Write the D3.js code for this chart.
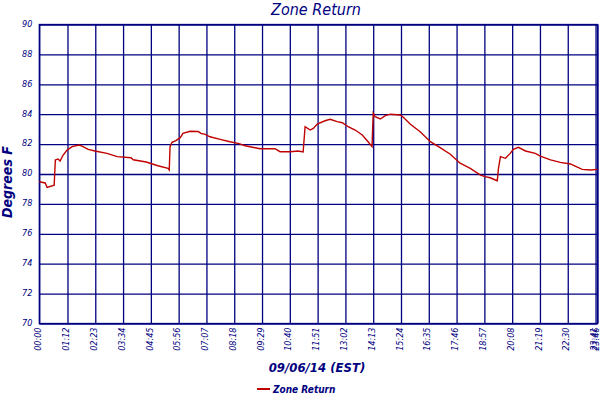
<!DOCTYPE html>
<html lang="en">
<head>
    <meta charset="UTF-8">
    <title>Zone Return</title>
    <script src="https://d3js.org/d3.v7.min.js"></script>
    <style>
        body { margin: 0; background: #fff; }
        text { fill: #000080; font-family: "DejaVu Sans Condensed", "DejaVu Sans", sans-serif; }
        .grid line, .grid path { stroke: #000080; stroke-width: 1.3; }
        .tick text { font-size: 9px; font-style: italic; }
    </style>
</head>
<body>
<script>
    // minutes after midnight, 09/06/14
    var times = [0, 15, 20, 38, 41, 48, 53, 61, 71, 84, 102, 109, 125, 142, 173, 199, 234, 240, 273, 303,
        329, 332, 334, 339, 349, 360, 367, 385, 406, 413, 424, 436, 462, 487, 508, 526, 564, 602, 615, 641,
        661, 674, 679, 692, 700, 710, 730, 743, 761, 774, 789, 807, 825, 840, 850, 853, 858, 871, 884, 897,
        922, 930, 948, 973, 999, 1024, 1050, 1075, 1101, 1127, 1139, 1152, 1165, 1170, 1173, 1178, 1191, 1203,
        1211, 1224, 1242, 1267, 1280, 1306, 1331, 1357, 1369, 1387, 1408, 1426];
    var temps = [79.48, 79.40, 79.10, 79.25, 80.94, 81.00, 80.87, 81.27, 81.60, 81.83, 81.94, 81.87, 81.65, 81.54, 81.38, 81.16, 81.09, 80.95, 80.80, 80.55,
        80.38, 80.27, 81.83, 82.12, 82.23, 82.43, 82.72, 82.86, 82.84, 82.72, 82.65, 82.49, 82.32, 82.16, 82.05, 81.89, 81.69, 81.69, 81.49, 81.49,
        81.54, 81.47, 83.16, 82.94, 83.05, 83.34, 83.56, 83.66, 83.50, 83.43, 83.16, 82.94, 82.61, 82.16, 81.83, 84.06, 83.83, 83.68, 83.90, 84.00,
        83.95, 83.80, 83.33, 82.83, 82.16, 81.76, 81.32, 80.72, 80.38, 79.93, 79.82, 79.75, 79.60, 79.55, 80.38, 81.16, 81.05, 81.38,
        81.65, 81.78, 81.54, 81.38, 81.20, 80.94, 80.78, 80.67, 80.53, 80.31, 80.27, 80.31];
    var timeLabels = ["00:00", "01:12", "02:23", "03:34", "04:45", "05:56", "07:07", "08:18", "09:29", "10:40", "11:51",
        "13:02", "14:13", "15:24", "16:35", "17:46", "18:57", "20:08", "21:19", "22:30", "23:41", "23:46"];
    var tempTicks = [70, 72, 74, 76, 78, 80, 82, 84, 86, 88, 90];

    var width = 600, height = 400;
    var plotLeft = 39.3, plotRight = 597.5, plotTop = 24.5, plotBottom = 323.5;

    var svg = d3.select("body").append("svg")
        .attr("width", width)
        .attr("height", height);

    function toMin(s) { return +s.slice(0, 2) * 60 + +s.slice(3); }

    var x = d3.scaleLinear().domain([0, 1426]).range([plotLeft, plotRight]);
    var y = d3.scaleLinear().domain([70, 90]).range([plotBottom, plotTop]);

    // vertical grid + time labels
    var xAxis = svg.append("g")
        .attr("class", "grid")
        .attr("transform", "translate(0," + plotBottom + ")")
        .call(d3.axisBottom(x)
            .tickValues(timeLabels.map(toMin))
            .tickFormat(function(d, i) { return timeLabels[i]; })
            .tickSize(-(plotBottom - plotTop))
            .tickPadding(0));
    xAxis.select(".domain").remove();
    xAxis.selectAll("text")
        .attr("text-anchor", "end")
        .attr("transform", "translate(-2,4) rotate(-90)")
        .attr("x", 0)
        .attr("y", 0)
        .attr("dy", "0.35em");

    // horizontal grid + temp labels
    var yAxis = svg.append("g")
        .attr("class", "grid")
        .attr("transform", "translate(" + plotLeft + ",0)")
        .call(d3.axisLeft(y)
            .tickValues(tempTicks)
            .tickSize(-(plotRight - plotLeft))
            .tickPadding(7));
    yAxis.select(".domain").remove();
    yAxis.selectAll("text").attr("dy", "0.2em");

    svg.append("rect")
        .attr("x", plotLeft).attr("y", plotTop)
        .attr("width", plotRight - plotLeft).attr("height", plotBottom - plotTop)
        .attr("fill", "none")
        .attr("stroke", "#000080")
        .attr("stroke-width", 1.3);

    var line = d3.line()
        .x(function(d, i) { return x(times[i]); })
        .y(function(d) { return y(d); });

    svg.append("path")
        .datum(temps)
        .attr("d", line)
        .attr("fill", "none")
        .attr("stroke", "#c00000")
        .attr("stroke-width", 1.4);

    svg.append("text")
        .attr("x", 316).attr("y", 15)
        .attr("text-anchor", "middle")
        .style("font-size", "16px")
        .style("font-style", "italic")
        .text("Zone Return");

    svg.append("text")
        .attr("x", 317).attr("y", 372)
        .attr("text-anchor", "middle")
        .style("font-size", "13px")
        .style("font-style", "italic")
        .style("font-weight", "bold")
        .text("09/06/14 (EST)");

    svg.append("text")
        .attr("transform", "translate(12,182) rotate(-90)")
        .attr("text-anchor", "middle")
        .style("font-size", "14px")
        .style("font-style", "italic")
        .style("font-weight", "bold")
        .text("Degrees F");

    // legend
    svg.append("line")
        .attr("x1", 257).attr("x2", 270)
        .attr("y1", 389).attr("y2", 389)
        .attr("stroke", "#c00000")
        .attr("stroke-width", 2);
    svg.append("text")
        .attr("x", 273).attr("y", 393)
        .style("font-size", "10px")
        .style("font-style", "italic")
        .style("font-weight", "bold")
        .text("Zone Return");
</script>
</body>
</html>
